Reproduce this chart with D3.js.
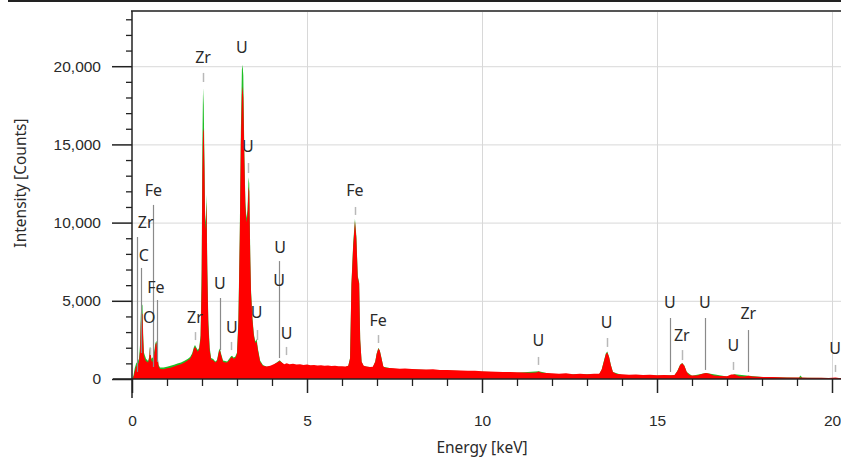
<!DOCTYPE html>
<html><head><meta charset="utf-8">
<script src="https://cdn.jsdelivr.net/npm/d3@7"></script>
<style>
html,body{margin:0;padding:0;background:#fff;}
svg{display:block;font-family:"Segoe UI","Noto Sans","Open Sans",sans-serif;}
</style></head>
<body><svg id="c" width="841" height="459"></svg>
<script>
// ---- data (energy keV, counts) ----
const redSpectrum = [
[0.00,0],[0.04,100],[0.08,500],[0.12,800],[0.16,900],[0.20,1100],[0.23,1800],[0.25,3500],[0.27,4200],[0.30,4150],[0.32,2500],[0.34,1500],[0.38,1200],[0.42,1100],[0.46,1050],[0.49,1300],[0.51,1950],[0.53,1900],[0.55,1200],[0.58,1050],[0.61,1300],[0.64,1600],[0.67,2200],[0.70,2350],[0.73,1400],[0.76,800],[0.80,640],[0.90,620],[1.00,680],[1.10,720],[1.20,800],[1.30,880],[1.40,950],[1.50,1050],[1.60,1200],[1.66,1300],[1.72,1550],[1.77,1950],[1.80,2050],[1.84,1900],[1.88,1750],[1.92,1900],[1.96,2600],[1.99,6000],[2.01,13000],[2.03,15800],[2.05,16000],[2.07,13500],[2.09,9500],[2.11,10000],[2.13,11300],[2.15,7000],[2.18,3500],[2.22,1800],[2.26,1250],[2.32,1200],[2.38,1050],[2.43,1150],[2.48,1700],[2.51,1850],[2.55,1500],[2.60,1100],[2.66,1050],[2.72,1050],[2.78,1200],[2.83,1380],[2.86,1400],[2.90,1300],[2.95,1350],[3.00,1600],[3.04,3500],[3.08,9000],[3.11,15000],[3.14,18200],[3.16,18700],[3.18,18000],[3.21,14000],[3.24,11000],[3.27,10000],[3.30,10500],[3.33,12300],[3.35,12000],[3.38,7500],[3.40,5500],[3.44,3800],[3.48,2800],[3.52,2300],[3.56,2400],[3.60,1800],[3.66,1100],[3.74,850],[3.85,800],[3.95,850],[4.05,950],[4.15,1050],[4.22,1150],[4.28,1050],[4.35,950],[4.42,1000],[4.50,950],[4.60,980],[4.70,920],[4.80,950],[4.90,900],[5.00,930],[5.10,880],[5.20,900],[5.30,870],[5.40,880],[5.50,850],[5.60,860],[5.70,830],[5.80,840],[5.90,810],[6.00,820],[6.10,800],[6.18,850],[6.23,1300],[6.27,6000],[6.32,8500],[6.37,10100],[6.41,9000],[6.45,6500],[6.49,6100],[6.52,2500],[6.56,1100],[6.62,850],[6.70,800],[6.80,760],[6.88,780],[6.95,1100],[6.99,1600],[7.04,1950],[7.08,1800],[7.13,1300],[7.18,800],[7.25,720],[7.35,700],[7.50,690],[7.65,660],[7.80,670],[8.00,640],[8.20,630],[8.40,610],[8.60,620],[8.80,580],[9.00,570],[9.20,560],[9.40,540],[9.60,530],[9.80,520],[10.0,500],[10.2,480],[10.4,470],[10.6,450],[10.8,440],[11.0,430],[11.2,420],[11.4,400],[11.55,420],[11.62,480],[11.70,400],[11.85,380],[12.0,370],[12.2,330],[12.4,360],[12.6,310],[12.8,340],[13.0,300],[13.2,330],[13.35,340],[13.42,600],[13.48,1100],[13.54,1600],[13.58,1700],[13.63,1400],[13.68,900],[13.74,450],[13.85,320],[14.0,300],[14.2,270],[14.4,290],[14.6,250],[14.8,270],[15.0,240],[15.2,250],[15.4,240],[15.50,250],[15.58,500],[15.66,900],[15.72,1000],[15.78,850],[15.85,450],[15.92,260],[16.0,230],[16.15,220],[16.3,330],[16.4,380],[16.5,340],[16.62,220],[16.8,190],[17.0,180],[17.12,280],[17.22,290],[17.35,180],[17.5,160],[17.62,200],[17.72,160],[17.9,140],[18.1,130],[18.3,120],[18.5,115],[18.7,100],[18.9,95],[19.1,90],[19.3,85],[19.5,80],[19.7,75],[19.9,70],[20.1,90],[20.2,70],[20.5,60]
];
const greenSpectrum = [
[0.00,0],[0.04,200],[0.08,700],[0.12,1000],[0.16,1100],[0.20,1300],[0.23,2200],[0.25,4000],[0.27,4850],[0.30,4700],[0.32,2800],[0.34,1700],[0.40,1300],[0.46,1150],[0.49,1400],[0.51,2050],[0.53,2000],[0.55,1300],[0.61,1400],[0.67,2300],[0.70,2450],[0.73,1500],[0.76,900],[0.80,740],[0.90,730],[1.00,790],[1.10,840],[1.20,910],[1.30,990],[1.40,1060],[1.50,1160],[1.60,1300],[1.66,1400],[1.72,1650],[1.77,2050],[1.80,2180],[1.84,2000],[1.88,1850],[1.92,2000],[1.96,2800],[1.99,7000],[2.01,15000],[2.03,18600],[2.05,17500],[2.07,14000],[2.09,10000],[2.11,10500],[2.13,11800],[2.15,7400],[2.18,3800],[2.22,2000],[2.26,1350],[2.32,1280],[2.38,1120],[2.43,1220],[2.48,1800],[2.51,1950],[2.55,1580],[2.60,1180],[2.72,1120],[2.83,1450],[2.86,1480],[2.90,1370],[2.95,1420],[3.00,1700],[3.04,3800],[3.08,9500],[3.11,15800],[3.14,19800],[3.16,20100],[3.18,19400],[3.21,14500],[3.24,11300],[3.27,10300],[3.30,10800],[3.33,12900],[3.35,12500],[3.38,7800],[3.40,5700],[3.44,3950],[3.48,2900],[3.52,2400],[3.56,2550],[3.60,1900],[3.66,1180],[3.74,900],[3.85,780],[4.0,830],[4.22,1200],[4.35,900],[4.5,880],[5.0,860],[5.5,800],[6.1,760],[6.18,840],[6.23,1350],[6.27,6100],[6.32,8700],[6.37,10250],[6.41,9150],[6.45,6600],[6.49,6150],[6.52,2550],[6.56,1100],[6.62,820],[6.88,740],[6.95,1120],[6.99,1630],[7.04,2000],[7.08,1830],[7.13,1320],[7.18,780],[7.5,640],[8.0,600],[9.0,540],[10.0,460],[11.0,400],[11.62,490],[12.0,300],[13.35,300],[13.42,610],[13.48,1130],[13.54,1640],[13.58,1760],[13.63,1420],[13.68,910],[13.74,440],[14.0,250],[15.0,220],[15.50,240],[15.58,510],[15.66,910],[15.72,1030],[15.78,860],[15.85,450],[16.0,200],[16.4,390],[17.0,160],[17.22,300],[17.62,205],[18.0,120],[19.05,80],[19.1,230],[19.15,80],[20.0,60],[20.5,55]
];
// peak labels: element, text energy, text height (counts), line energy, line top, line bottom, long line?
const peakNames   = ["Zr","U","U","Fe","Fe","Zr","U","U","U","U","U","U","C","Zr","Fe","Fe","O","U","U","U","Zr","U","U","Zr","U"];
const peakTextE   = [2.03,3.14,3.31,6.37,7.03,1.80,2.51,2.85,3.56,4.23,4.20,4.42,0.34,0.39,0.61,0.68,0.49,11.61,13.56,15.37,15.71,16.37,17.18,17.61,20.09];
const peakTextC   = [20590,21230,14900,12080,3770,3960,6140,3320,4280,8440,6330,2940,7930,10040,12080,5880,3960,2490,3640,4920,2810,4920,2170,4220,1980];
const peakLineE   = [2.03,null,3.31,6.37,7.03,1.79,2.51,2.84,3.56,4.20,null,4.40,0.27,0.14,0.59,0.71,0.51,11.61,13.56,15.37,15.71,16.37,17.18,17.61,20.09];
const peakLineTop = [19570,null,13810,11000,2810,3000,5180,2370,3130,7540,null,2050,7100,9080,11130,5050,1980,1410,2620,3900,1850,3900,1090,3130,900];
const peakLineBot = [18990,null,13170,10490,2300,2490,1850,1850,2490,1340,null,1530,1660,450,770,1090,1530,900,2050,450,1210,580,580,450,450];
const peakLong    = [0,0,0,0,0,0,1,0,0,1,0,0,1,1,1,1,0,0,0,1,0,1,0,1,0];
const xMajorTicks = [0,5,10,15,20];
const yMajorTicks = [0,5000,10000,15000,20000];
const xLabel = "Energy [keV]";
const yLabel = "Intensity [Counts]";

const svg = d3.select("#c");
const L=132, B=379, T=11;
const x = d3.scaleLinear().domain([0,20.5]).range([L, L+20.5*35]);
const y = d3.scaleLinear().domain([0,23530]).range([B, T]);
const R = x(20.5);

svg.append("rect").attr("x",0).attr("y",0).attr("width",841).attr("height",459).attr("fill","#fff");
svg.append("rect").attr("x",8).attr("y",0).attr("width",833).attr("height",2).attr("fill","#222");

// grid
const g = svg.append("g");
g.selectAll(".hg").data(yMajorTicks.slice(1)).join("line")
  .attr("x1",L).attr("x2",R).attr("y1",d=>y(d)+0.5).attr("y2",d=>y(d)+0.5)
  .attr("stroke","#d8d8d8").attr("stroke-width",1);
g.selectAll(".vg").data(xMajorTicks.slice(1)).join("line")
  .attr("x1",d=>x(d)+0.5).attr("x2",d=>x(d)+0.5).attr("y1",T).attr("y2",B)
  .attr("stroke","#d8d8d8").attr("stroke-width",1);

// spectra
svg.append("clipPath").attr("id","clip").append("rect").attr("x",L).attr("y",T).attr("width",R-L).attr("height",B-T);
const area = d3.area().x(d=>x(d[0])).y0(B).y1(d=>y(d[1]));
const sp = svg.append("g").attr("clip-path","url(#clip)");
sp.append("path").datum(greenSpectrum).attr("d",area).attr("fill","#1fbf25");
sp.append("path").datum(redSpectrum).attr("d",area).attr("fill","#ff0000");

// peak label lines
const labels = peakNames.map((n,i)=>({n, te:peakTextE[i], tc:peakTextC[i], le:peakLineE[i], lt:peakLineTop[i], lb:peakLineBot[i], long:peakLong[i]}));
svg.append("g").selectAll("line").data(labels.filter(d=>d.le!==null)).join("line")
  .attr("x1",d=>Math.round(x(d.le))+0.5).attr("x2",d=>Math.round(x(d.le))+0.5)
  .attr("y1",d=>y(d.lt)).attr("y2",d=>y(d.lb))
  .attr("stroke",d=>d.long?"#8a8a8a":"#b8b8b8").attr("stroke-width",d=>d.long?1.2:1.5);
svg.append("g").selectAll("text").data(labels).join("text")
  .attr("x",d=>x(d.te)).attr("y",d=>y(d.tc)).attr("text-anchor","middle").attr("dominant-baseline","central")
  .attr("font-size",16).attr("fill","#2a2a2a").text(d=>d.n);

// frame
svg.append("line").attr("x1",L-1).attr("x2",841).attr("y1",T).attr("y2",T).attr("stroke","#555").attr("stroke-width",2);

// axes
const yMinor = d3.range(0,23001,1000).filter(v=>v%5000!==0);
svg.append("g").attr("transform",`translate(${L},0)`)
  .call(d3.axisLeft(y).tickValues(yMinor).tickSize(6).tickFormat(""))
  .call(a=>a.select(".domain").remove())
  .call(a=>a.selectAll("line").attr("stroke","#222").attr("stroke-width",1.3));
svg.append("g").attr("transform",`translate(${L},0)`)
  .call(d3.axisLeft(y).tickValues(yMajorTicks).tickSize(20).tickPadding(11).tickFormat(d3.format(",")))
  .call(a=>a.select(".domain").remove())
  .call(a=>a.selectAll("line").attr("stroke","#222").attr("stroke-width",1.5))
  .call(a=>a.selectAll("text").attr("font-size",15.5).attr("fill","#2a2a2a").attr("font-family","inherit"));
const xMinor = d3.range(1,21,1).filter(v=>v%5!==0);
svg.append("g").attr("transform",`translate(0,${B})`)
  .call(d3.axisBottom(x).tickValues(xMinor).tickSize(7).tickFormat(""))
  .call(a=>a.select(".domain").remove())
  .call(a=>a.selectAll("line").attr("stroke","#222").attr("stroke-width",1.3));
svg.append("g").attr("transform",`translate(0,${B})`)
  .call(d3.axisBottom(x).tickValues(xMajorTicks).tickSize(14).tickPadding(22).tickFormat(d3.format("d")))
  .call(a=>a.select(".domain").remove())
  .call(a=>a.selectAll("line").attr("stroke","#222").attr("stroke-width",1.5))
  .call(a=>a.selectAll("text").attr("font-size",15.5).attr("fill","#2a2a2a").attr("font-family","inherit"));
svg.append("line").attr("x1",L).attr("x2",L).attr("y1",T).attr("y2",398).attr("stroke","#222").attr("stroke-width",1.5);
svg.append("line").attr("x1",113).attr("x2",841).attr("y1",B).attr("y2",B).attr("stroke","#222").attr("stroke-width",1.5);

svg.append("text").attr("x",482).attr("y",447).attr("text-anchor","middle").attr("dominant-baseline","central")
  .attr("font-size",15.5).attr("fill","#2a2a2a").text(xLabel);
svg.append("text").attr("transform","translate(20,183) rotate(-90)").attr("text-anchor","middle").attr("dominant-baseline","central")
  .attr("font-size",15.5).attr("fill","#2a2a2a").text(yLabel);
</script></body></html>
